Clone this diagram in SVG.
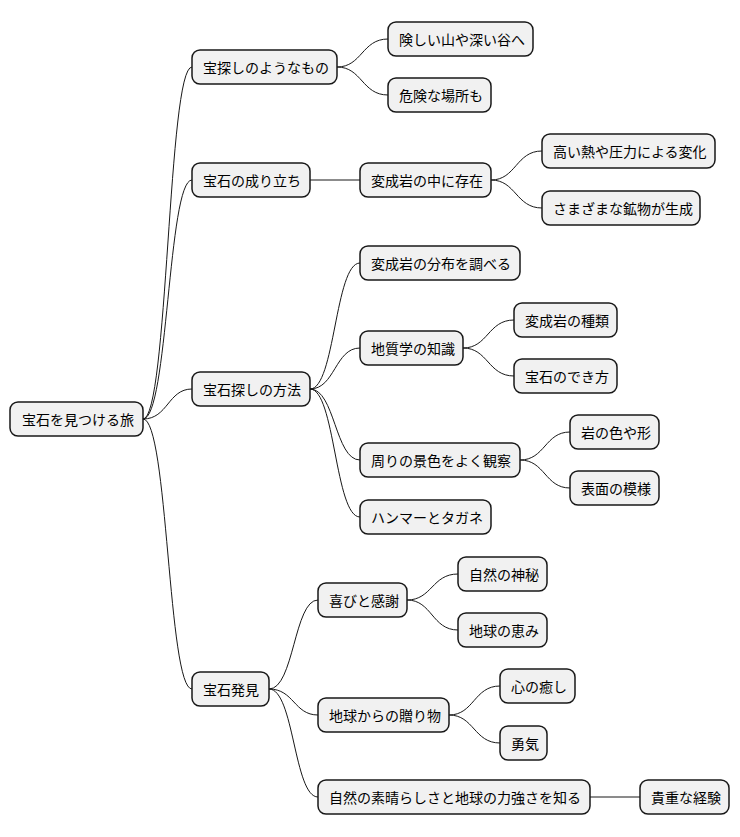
<svg xmlns="http://www.w3.org/2000/svg" width="740" height="837" viewBox="0 0 740 837">
<style>
.n rect{fill:#F1F1F1;stroke:#181818;stroke-width:1.5}
.n text{font-family:"Noto Sans CJK JP","Noto Sans",sans-serif;font-size:14px;fill:#000;dominant-baseline:central}
#c path{fill:none;stroke:#181818;stroke-width:1}
</style>
<rect width="740" height="837" fill="#fff"/>
<g id="c">
<path d="M143 419 C168 419,168 67,192 67"/>
<path d="M143 419 C168 419,168 180,192 180"/>
<path d="M143 419 C168 419,168 389,192 389"/>
<path d="M143 419 C168 419,168 689,192 689"/>
<path d="M337 67 C362 67,362 39,388 39"/>
<path d="M337 67 C362 67,362 95,388 95"/>
<path d="M310 180 L360 180"/>
<path d="M491 180 C516 180,516 151,542 151"/>
<path d="M491 180 C516 180,516 208,542 208"/>
<path d="M310 389 C335 389,335 263,360 263"/>
<path d="M310 389 C335 389,335 348,360 348"/>
<path d="M310 389 C335 389,335 460,360 460"/>
<path d="M310 389 C335 389,335 517,360 517"/>
<path d="M463 348 C488 348,488 320,514 320"/>
<path d="M463 348 C488 348,488 376,514 376"/>
<path d="M520 460 C545 460,545 432,570 432"/>
<path d="M520 460 C545 460,545 488,570 488"/>
<path d="M269 689 C294 689,294 600,318 600"/>
<path d="M269 689 C294 689,294 715,318 715"/>
<path d="M269 689 C294 689,294 797,318 797"/>
<path d="M407 600 C432 600,432 574,458 574"/>
<path d="M407 600 C432 600,432 630,458 630"/>
<path d="M449 715 C474 715,474 686,500 686"/>
<path d="M449 715 C474 715,474 743,500 743"/>
<path d="M590 797 L640 797"/>
</g>
<g id="root" class="n"><rect x="10" y="402" width="133" height="34" rx="8"/><text x="22" y="419">宝石を見つける旅</text></g>
<g id="n1" class="n"><rect x="192" y="50" width="145" height="34" rx="8"/><text x="203" y="67">宝探しのようなもの</text></g>
<g id="n2" class="n"><rect x="192" y="163" width="118" height="34" rx="8"/><text x="203" y="180">宝石の成り立ち</text></g>
<g id="n3" class="n"><rect x="192" y="372" width="118" height="34" rx="8"/><text x="203" y="389">宝石探しの方法</text></g>
<g id="n4" class="n"><rect x="192" y="672" width="77" height="34" rx="8"/><text x="203" y="689">宝石発見</text></g>
<g id="n11" class="n"><rect x="388" y="22" width="145" height="34" rx="8"/><text x="399" y="39">険しい山や深い谷へ</text></g>
<g id="n12" class="n"><rect x="388" y="78" width="103" height="34" rx="8"/><text x="399" y="95">危険な場所も</text></g>
<g id="n21" class="n"><rect x="360" y="163" width="131" height="34" rx="8"/><text x="371" y="180">変成岩の中に存在</text></g>
<g id="n211" class="n"><rect x="542" y="134" width="173" height="34" rx="8"/><text x="553" y="151">高い熱や圧力による変化</text></g>
<g id="n212" class="n"><rect x="542" y="191" width="158" height="34" rx="8"/><text x="553" y="208">さまざまな鉱物が生成</text></g>
<g id="n31" class="n"><rect x="360" y="246" width="160" height="34" rx="8"/><text x="371" y="263">変成岩の分布を調べる</text></g>
<g id="n32" class="n"><rect x="360" y="331" width="103" height="34" rx="8"/><text x="371" y="348">地質学の知識</text></g>
<g id="n321" class="n"><rect x="514" y="303" width="103" height="34" rx="8"/><text x="525" y="320">変成岩の種類</text></g>
<g id="n322" class="n"><rect x="514" y="359" width="103" height="34" rx="8"/><text x="525" y="376">宝石のでき方</text></g>
<g id="n33" class="n"><rect x="360" y="443" width="160" height="34" rx="8"/><text x="371" y="460">周りの景色をよく観察</text></g>
<g id="n331" class="n"><rect x="570" y="415" width="89" height="34" rx="8"/><text x="581" y="432">岩の色や形</text></g>
<g id="n332" class="n"><rect x="570" y="471" width="89" height="34" rx="8"/><text x="581" y="488">表面の模様</text></g>
<g id="n34" class="n"><rect x="360" y="500" width="131" height="34" rx="8"/><text x="371" y="517">ハンマーとタガネ</text></g>
<g id="n41" class="n"><rect x="318" y="583" width="89" height="34" rx="8"/><text x="329" y="600">喜びと感謝</text></g>
<g id="n411" class="n"><rect x="458" y="557" width="89" height="34" rx="8"/><text x="469" y="574">自然の神秘</text></g>
<g id="n412" class="n"><rect x="458" y="613" width="89" height="34" rx="8"/><text x="469" y="630">地球の恵み</text></g>
<g id="n42" class="n"><rect x="318" y="698" width="131" height="34" rx="8"/><text x="329" y="715">地球からの贈り物</text></g>
<g id="n421" class="n"><rect x="500" y="669" width="75" height="34" rx="8"/><text x="511" y="686">心の癒し</text></g>
<g id="n422" class="n"><rect x="500" y="726" width="47" height="34" rx="8"/><text x="511" y="743">勇気</text></g>
<g id="n43" class="n"><rect x="318" y="780" width="272" height="34" rx="8"/><text x="329" y="797">自然の素晴らしさと地球の力強さを知る</text></g>
<g id="n431" class="n"><rect x="640" y="780" width="89" height="34" rx="8"/><text x="651" y="797">貴重な経験</text></g>
</svg>
